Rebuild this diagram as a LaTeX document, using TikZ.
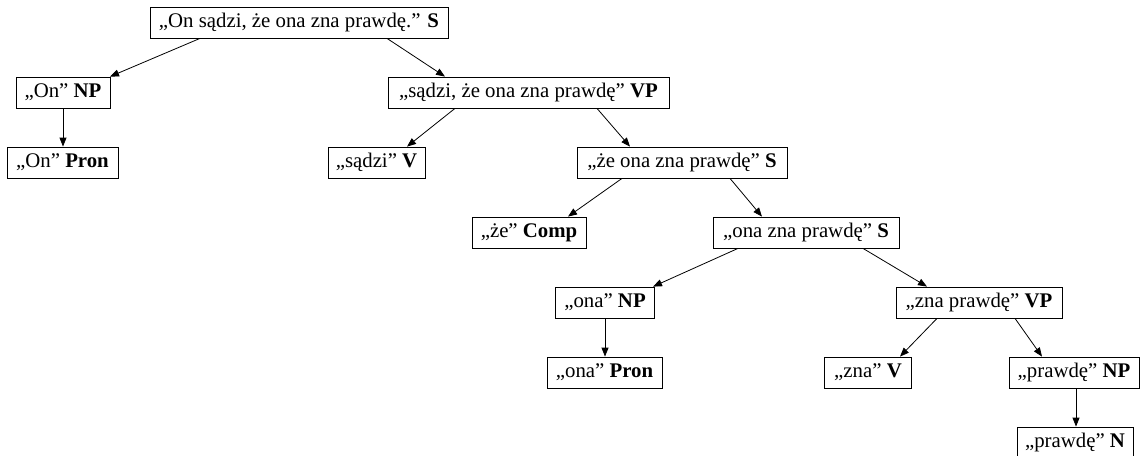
\documentclass[tikz,border=0pt]{standalone}
\usepackage{fontspec}
\setmainfont{Liberation Serif}
\usetikzlibrary{arrows.meta}
\begin{document}
\begin{tikzpicture}[x=1pt,y=-1pt,
  box/.style={draw, line width=0.8pt, inner sep=0pt, minimum height=31pt,
    font=\fontsize{20.8}{24}\selectfont, anchor=center},
  arr/.style={draw, line width=0.8pt, -{Triangle[length=9pt,width=7pt]}}]
\useasboundingbox (0,0) rectangle (1142,455);
\node[box, minimum width=298pt] (s1) at (299,22.5) {„On sądzi, że ona zna prawdę.” \textbf{S}};
\node[box, minimum width=94pt] (np1) at (63,92.5) {„On” \textbf{NP}};
\node[box, minimum width=111pt] (pr1) at (62.5,162.5) {„On” \textbf{Pron}};
\node[box, minimum width=281pt] (vp1) at (528.5,92.5) {„sądzi, że ona zna prawdę” \textbf{VP}};
\node[box, minimum width=97pt] (v1) at (376.5,162.5) {„sądzi” \textbf{V}};
\node[box, minimum width=210pt] (s2) at (682,162.5) {„że ona zna prawdę” \textbf{S}};
\node[box, minimum width=114pt] (co) at (529,232.5) {„że” \textbf{Comp}};
\node[box, minimum width=186pt] (s3) at (806,232.5) {„ona zna prawdę” \textbf{S}};
\node[box, minimum width=99pt] (np2) at (605,302.5) {„ona” \textbf{NP}};
\node[box, minimum width=115pt] (pr2) at (604.5,372.5) {„ona” \textbf{Pron}};
\node[box, minimum width=166pt] (vp2) at (979,302.5) {„zna prawdę” \textbf{VP}};
\node[box, minimum width=87pt] (v2) at (868,372.5) {„zna” \textbf{V}};
\node[box, minimum width=130pt] (np3) at (1074,372.5) {„prawdę” \textbf{NP}};
\node[box, minimum width=116pt] (n3) at (1075,442.5) {„prawdę” \textbf{N}};
\draw[arr] ([xshift=-99pt]s1.south) -- ([xshift=47pt]np1.north);
\draw[arr] ([xshift=88pt]s1.south) -- ([xshift=-83.5pt]vp1.north);
\draw[arr] (np1.south) -- (np1.south |- pr1.north);
\draw[arr] ([xshift=-73.5pt]vp1.south) -- ([xshift=30.5pt]v1.north);
\draw[arr] ([xshift=68.5pt]vp1.south) -- ([xshift=-52pt]s2.north);
\draw[arr] ([xshift=-60pt]s2.south) -- ([xshift=39pt]co.north);
\draw[arr] ([xshift=48pt]s2.south) -- ([xshift=-44pt]s3.north);
\draw[arr] ([xshift=-68pt]s3.south) -- ([xshift=48pt]np2.north);
\draw[arr] ([xshift=57pt]s3.south) -- ([xshift=-52pt]vp2.north);
\draw[arr] (np2.south) -- (np2.south |- pr2.north);
\draw[arr] ([xshift=-42pt]vp2.south) -- ([xshift=32pt]v2.north);
\draw[arr] ([xshift=36pt]vp2.south) -- ([xshift=-32pt]np3.north);
\draw[arr] ([xshift=2pt]np3.south) -- ([xshift=2pt]np3.south |- n3.north);
\end{tikzpicture}
\end{document}
